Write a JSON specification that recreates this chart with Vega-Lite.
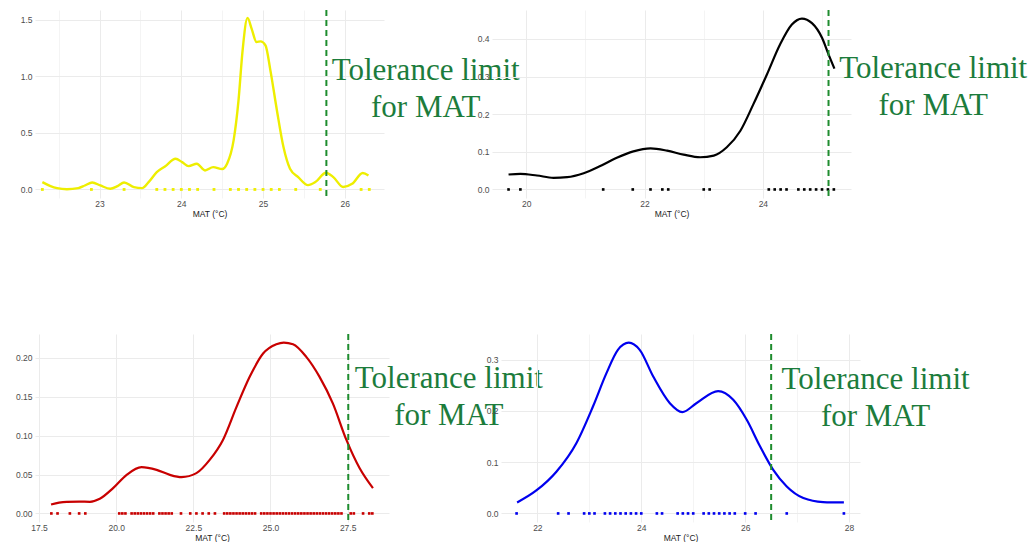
{
  "$schema": "https://vega.github.io/schema/vega-lite/v6.json",
  "padding": {"left": 5, "top": 9, "right": 0, "bottom": 0},
  "autosize": {"type": "pad"},
  "background": "white",
  "config": {
    "view": {"stroke": null},
    "axis": {
      "domain": false,
      "ticks": false,
      "labelFont": "Liberation Sans",
      "labelFontSize": 8.5,
      "labelColor": "#4D4D4D",
      "labelPadding": 3,
      "labelFlush": false,
      "labelOverlap": false,
      "titleFont": "Liberation Sans",
      "titleFontSize": 8.5,
      "titleFontWeight": "normal",
      "titleColor": "#1A1A1A",
      "titlePadding": 2,
      "gridWidth": 1
    },
    "axisX": {"labelPadding": 1}
  },
  "datasets": {
    "curve1": [
      {"MAT": 22.30, "density": 0.065}, {"MAT": 22.40, "density": 0.030}, {"MAT": 22.48, "density": 0.012},
      {"MAT": 22.60, "density": 0.002}, {"MAT": 22.74, "density": 0.012}, {"MAT": 22.82, "density": 0.035},
      {"MAT": 22.91, "density": 0.062}, {"MAT": 23.01, "density": 0.035}, {"MAT": 23.13, "density": 0.006},
      {"MAT": 23.22, "density": 0.030}, {"MAT": 23.30, "density": 0.062}, {"MAT": 23.42, "density": 0.020},
      {"MAT": 23.52, "density": 0.012}, {"MAT": 23.60, "density": 0.065}, {"MAT": 23.70, "density": 0.153},
      {"MAT": 23.80, "density": 0.203}, {"MAT": 23.93, "density": 0.271}, {"MAT": 24.01, "density": 0.241},
      {"MAT": 24.09, "density": 0.206}, {"MAT": 24.19, "density": 0.227}, {"MAT": 24.29, "density": 0.168},
      {"MAT": 24.39, "density": 0.197}, {"MAT": 24.50, "density": 0.180}, {"MAT": 24.56, "density": 0.227},
      {"MAT": 24.64, "density": 0.433}, {"MAT": 24.70, "density": 0.787}, {"MAT": 24.75, "density": 1.229},
      {"MAT": 24.81, "density": 1.515}, {"MAT": 24.86, "density": 1.421}, {"MAT": 24.92, "density": 1.302},
      {"MAT": 24.97, "density": 1.308}, {"MAT": 25.03, "density": 1.273}, {"MAT": 25.09, "density": 1.052},
      {"MAT": 25.17, "density": 0.698}, {"MAT": 25.25, "density": 0.374}, {"MAT": 25.33, "density": 0.183},
      {"MAT": 25.43, "density": 0.109}, {"MAT": 25.55, "density": 0.038}, {"MAT": 25.64, "density": 0.065},
      {"MAT": 25.77, "density": 0.148}, {"MAT": 25.86, "density": 0.109}, {"MAT": 25.98, "density": 0.022},
      {"MAT": 26.09, "density": 0.050}, {"MAT": 26.22, "density": 0.145}, {"MAT": 26.29, "density": 0.124}
    ],
    "dots1": [
      {"MAT": 22.3}, {"MAT": 22.9}, {"MAT": 23.3}, {"MAT": 23.7}, {"MAT": 23.8}, {"MAT": 23.9}, {"MAT": 24.0},
      {"MAT": 24.1}, {"MAT": 24.2}, {"MAT": 24.4}, {"MAT": 24.6}, {"MAT": 24.7}, {"MAT": 24.8}, {"MAT": 24.9},
      {"MAT": 25.0}, {"MAT": 25.1}, {"MAT": 25.2}, {"MAT": 25.4}, {"MAT": 25.7}, {"MAT": 26.2}, {"MAT": 26.3}
    ],
    "limit1": [{"limit": 25.775}],
    "curve2": [
      {"MAT": 19.70, "density": 0.0397}, {"MAT": 19.90, "density": 0.0414}, {"MAT": 20.18, "density": 0.037},
      {"MAT": 20.46, "density": 0.031}, {"MAT": 20.69, "density": 0.0326}, {"MAT": 20.97, "density": 0.043},
      {"MAT": 21.25, "density": 0.062}, {"MAT": 21.53, "density": 0.084}, {"MAT": 21.81, "density": 0.101},
      {"MAT": 22.10, "density": 0.109}, {"MAT": 22.38, "density": 0.103}, {"MAT": 22.66, "density": 0.0925},
      {"MAT": 22.94, "density": 0.0855}, {"MAT": 23.17, "density": 0.090}, {"MAT": 23.39, "density": 0.112},
      {"MAT": 23.62, "density": 0.156}, {"MAT": 23.84, "density": 0.2266}, {"MAT": 24.07, "density": 0.306},
      {"MAT": 24.29, "density": 0.385}, {"MAT": 24.49, "density": 0.438}, {"MAT": 24.66, "density": 0.454},
      {"MAT": 24.83, "density": 0.442}, {"MAT": 25.00, "density": 0.403}, {"MAT": 25.11, "density": 0.359},
      {"MAT": 25.21, "density": 0.321}
    ],
    "dots2": [
      {"MAT": 19.7}, {"MAT": 19.9}, {"MAT": 21.3}, {"MAT": 21.8}, {"MAT": 22.1}, {"MAT": 22.3}, {"MAT": 22.4},
      {"MAT": 23.0}, {"MAT": 23.1}, {"MAT": 24.1}, {"MAT": 24.2}, {"MAT": 24.3}, {"MAT": 24.4}, {"MAT": 24.6},
      {"MAT": 24.7}, {"MAT": 24.8}, {"MAT": 24.9}, {"MAT": 25.0}, {"MAT": 25.1}, {"MAT": 25.2}
    ],
    "limit2": [{"limit": 25.11}],
    "curve3": [
      {"MAT": 17.89, "density": 0.0115}, {"MAT": 18.15, "density": 0.0140}, {"MAT": 18.40, "density": 0.0150},
      {"MAT": 18.80, "density": 0.0152}, {"MAT": 19.15, "density": 0.0150}, {"MAT": 19.47, "density": 0.0188},
      {"MAT": 19.90, "density": 0.0325}, {"MAT": 20.34, "density": 0.0496}, {"MAT": 20.82, "density": 0.0595},
      {"MAT": 21.31, "density": 0.0560}, {"MAT": 21.74, "density": 0.0496}, {"MAT": 22.12, "density": 0.0467},
      {"MAT": 22.60, "density": 0.0518}, {"MAT": 23.03, "density": 0.0688}, {"MAT": 23.46, "density": 0.0945},
      {"MAT": 23.90, "density": 0.137}, {"MAT": 24.33, "density": 0.176}, {"MAT": 24.76, "density": 0.2056},
      {"MAT": 25.19, "density": 0.2176}, {"MAT": 25.43, "density": 0.2197}, {"MAT": 25.73, "density": 0.2176},
      {"MAT": 26.16, "density": 0.2013}, {"MAT": 26.59, "density": 0.1756}, {"MAT": 27.02, "density": 0.1415},
      {"MAT": 27.46, "density": 0.0945}, {"MAT": 27.89, "density": 0.058}, {"MAT": 28.32, "density": 0.0325}
    ],
    "dots3": [
      {"MAT": 17.9}, {"MAT": 18.1}, {"MAT": 18.5}, {"MAT": 18.8}, {"MAT": 19.0}, {"MAT": 20.1}, {"MAT": 20.2},
      {"MAT": 20.3}, {"MAT": 20.5}, {"MAT": 20.6}, {"MAT": 20.7}, {"MAT": 20.8}, {"MAT": 20.9}, {"MAT": 21.0},
      {"MAT": 21.1}, {"MAT": 21.2}, {"MAT": 21.4}, {"MAT": 21.5}, {"MAT": 21.6}, {"MAT": 21.7}, {"MAT": 21.8},
      {"MAT": 22.1}, {"MAT": 22.4}, {"MAT": 22.6}, {"MAT": 22.8}, {"MAT": 23.0}, {"MAT": 23.2}, {"MAT": 23.5},
      {"MAT": 23.6}, {"MAT": 23.7}, {"MAT": 23.8}, {"MAT": 23.9}, {"MAT": 24.0}, {"MAT": 24.1}, {"MAT": 24.2},
      {"MAT": 24.3}, {"MAT": 24.4}, {"MAT": 24.5}, {"MAT": 24.7}, {"MAT": 24.8}, {"MAT": 24.9}, {"MAT": 25.0},
      {"MAT": 25.1}, {"MAT": 25.2}, {"MAT": 25.3}, {"MAT": 25.4}, {"MAT": 25.5}, {"MAT": 25.6}, {"MAT": 25.7},
      {"MAT": 25.8}, {"MAT": 25.9}, {"MAT": 26.0}, {"MAT": 26.1}, {"MAT": 26.2}, {"MAT": 26.3}, {"MAT": 26.4},
      {"MAT": 26.5}, {"MAT": 26.6}, {"MAT": 26.7}, {"MAT": 26.8}, {"MAT": 26.9}, {"MAT": 27.0}, {"MAT": 27.1},
      {"MAT": 27.2}, {"MAT": 27.3}, {"MAT": 27.6}, {"MAT": 27.7}, {"MAT": 28.0}, {"MAT": 28.2}, {"MAT": 28.3}
    ],
    "limit3": [{"limit": 27.52}],
    "curve4": [
      {"MAT": 21.61, "density": 0.0214}, {"MAT": 21.98, "density": 0.0448}, {"MAT": 22.37, "density": 0.0819},
      {"MAT": 22.75, "density": 0.137}, {"MAT": 23.07, "density": 0.2086}, {"MAT": 23.33, "density": 0.2737},
      {"MAT": 23.55, "density": 0.319}, {"MAT": 23.76, "density": 0.333}, {"MAT": 23.97, "density": 0.319},
      {"MAT": 24.23, "density": 0.267}, {"MAT": 24.55, "density": 0.215}, {"MAT": 24.79, "density": 0.1976},
      {"MAT": 25.06, "density": 0.215}, {"MAT": 25.48, "density": 0.2385}, {"MAT": 25.77, "density": 0.2216},
      {"MAT": 26.03, "density": 0.1826}, {"MAT": 26.28, "density": 0.132}, {"MAT": 26.54, "density": 0.085},
      {"MAT": 26.80, "density": 0.0526}, {"MAT": 27.12, "density": 0.030}, {"MAT": 27.50, "density": 0.0222},
      {"MAT": 27.90, "density": 0.0214}
    ],
    "dots4": [
      {"MAT": 21.6}, {"MAT": 22.4}, {"MAT": 22.6}, {"MAT": 22.9}, {"MAT": 23.0}, {"MAT": 23.1}, {"MAT": 23.3},
      {"MAT": 23.4}, {"MAT": 23.5}, {"MAT": 23.6}, {"MAT": 23.7}, {"MAT": 23.8}, {"MAT": 23.9}, {"MAT": 24.0},
      {"MAT": 24.3}, {"MAT": 24.4}, {"MAT": 24.7}, {"MAT": 24.8}, {"MAT": 24.9}, {"MAT": 25.0}, {"MAT": 25.2},
      {"MAT": 25.3}, {"MAT": 25.4}, {"MAT": 25.5}, {"MAT": 25.6}, {"MAT": 25.7}, {"MAT": 25.8}, {"MAT": 26.0},
      {"MAT": 26.2}, {"MAT": 26.8}, {"MAT": 27.9}
    ],
    "limit4": [{"limit": 26.5}]
  },
  "concat": [
    {
      "hconcat": [
        {
          "width": 349, "height": 188,
          "layer": [
            {
              "data": {"name": "curve1"},
              "mark": {"type": "line", "color": "#EEEE00", "strokeWidth": 2.4, "interpolate": "monotone"},
              "encoding": {
                "x": {"field": "MAT", "type": "quantitative", "title": "MAT (°C)",
                  "scale": {"domain": [22.21, 26.48], "nice": false, "zero": false},
                  "axis": {"values": [22.5, 23, 23.5, 24, 24.5, 25, 25.5, 26], "format": ".0f",
                    "labelExpr": "datum.value % 1 == 0 ? datum.label : ''",
                    "gridColor": {"condition": {"test": "datum.value % 1 != 0", "value": "#F4F4F4"}, "value": "#EBEBEB"}}},
                "y": {"field": "density", "type": "quantitative", "title": null,
                  "scale": {"domain": [-0.0755, 1.585], "nice": false, "zero": false},
                  "axis": {"values": [0, 0.25, 0.5, 0.75, 1, 1.25, 1.5], "format": ".1f",
                    "labelExpr": "round(datum.value*4) % 2 == 0 ? datum.label : ''",
                    "gridColor": {"condition": {"test": "round(datum.value*4) % 2 == 1", "value": "#F4F4F4"}, "value": "#EBEBEB"}}}
              }
            },
            {
              "data": {"name": "dots1"},
              "mark": {"type": "square", "size": 8, "color": "#EEEE00", "opacity": 1},
              "encoding": {"x": {"field": "MAT", "type": "quantitative", "title": "MAT (°C)"}, "y": {"datum": 0, "title": null}}
            },
            {
              "data": {"name": "limit1"},
              "mark": {"type": "rule", "color": "#1E8C2E", "strokeWidth": 2, "strokeDash": [6, 4]},
              "encoding": {"x": {"field": "limit", "type": "quantitative", "title": "MAT (°C)"}}
            },
            {
              "data": {"values": [{}]},
              "mark": {"type": "text", "text": ["Tolerance limit", "for MAT"], "font": "Liberation Serif", "fontSize": 31,
                "color": "#1C7C3C", "align": "center", "baseline": "alphabetic", "lineHeight": 37},
              "encoding": {"x": {"datum": 26.99, "title": "MAT (°C)"}, "y": {"datum": 0.97, "title": null}}
            }
          ]
        },
        {
          "width": 359, "height": 188,
          "layer": [
            {
              "data": {"name": "curve2"},
              "mark": {"type": "line", "color": "#000000", "strokeWidth": 2.2, "interpolate": "monotone"},
              "encoding": {
                "x": {"field": "MAT", "type": "quantitative", "title": "MAT (°C)",
                  "scale": {"domain": [19.42, 25.49], "nice": false, "zero": false},
                  "axis": {"values": [20, 21, 22, 23, 24, 25], "format": ".0f",
                    "labelExpr": "datum.value % 2 == 0 ? datum.label : ''",
                    "gridColor": {"condition": {"test": "datum.value % 2 != 0", "value": "#F4F4F4"}, "value": "#EBEBEB"}}},
                "y": {"field": "density", "type": "quantitative", "title": null,
                  "scale": {"domain": [-0.0227, 0.4767], "nice": false, "zero": false},
                  "axis": {"values": [0, 0.05, 0.1, 0.15, 0.2, 0.25, 0.3, 0.35, 0.4, 0.45], "format": ".1f",
                    "labelExpr": "round(datum.value*20) % 2 == 0 ? datum.label : ''",
                    "gridColor": {"condition": {"test": "round(datum.value*20) % 2 == 1", "value": "#F4F4F4"}, "value": "#EBEBEB"}}}
              }
            },
            {
              "data": {"name": "dots2"},
              "mark": {"type": "square", "size": 7, "color": "#000000", "opacity": 1},
              "encoding": {"x": {"field": "MAT", "type": "quantitative", "title": "MAT (°C)"}, "y": {"datum": 0, "title": null}}
            },
            {
              "data": {"name": "limit2"},
              "mark": {"type": "rule", "color": "#1E8C2E", "strokeWidth": 2, "strokeDash": [6, 4]},
              "encoding": {"x": {"field": "limit", "type": "quantitative", "title": "MAT (°C)"}}
            },
            {
              "data": {"values": [{}]},
              "mark": {"type": "text", "text": ["Tolerance limit", "for MAT"], "font": "Liberation Serif", "fontSize": 31,
                "color": "#1C7C3C", "align": "center", "baseline": "alphabetic", "lineHeight": 37},
              "encoding": {"x": {"datum": 26.88, "title": "MAT (°C)"}, "y": {"datum": 0.295, "title": null}}
            }
          ]
        }
      ],
      "spacing": 108,
      "bounds": "flush"
    },
    {
      "hconcat": [
        {
          "width": 354, "height": 188,
          "layer": [
            {
              "data": {"name": "curve3"},
              "mark": {"type": "line", "color": "#C80000", "strokeWidth": 2.2, "interpolate": "monotone"},
              "encoding": {
                "x": {"field": "MAT", "type": "quantitative", "title": "MAT (°C)",
                  "scale": {"domain": [17.37, 28.84], "nice": false, "zero": false},
                  "axis": {"values": [17.5, 18.75, 20, 21.25, 22.5, 23.75, 25, 26.25, 27.5, 28.75], "format": ".1f",
                    "labelExpr": "round(datum.value*4) % 10 == 0 ? datum.label : ''",
                    "gridColor": {"condition": {"test": "round(datum.value*4) % 10 != 0", "value": "#F4F4F4"}, "value": "#EBEBEB"}}},
                "y": {"field": "density", "type": "quantitative", "title": null,
                  "scale": {"domain": [-0.011, 0.2307], "nice": false, "zero": false},
                  "axis": {"values": [0, 0.025, 0.05, 0.075, 0.1, 0.125, 0.15, 0.175, 0.2, 0.225], "format": ".2f", "minExtent": 30,
                    "labelExpr": "round(datum.value*40) % 2 == 0 ? datum.label : ''",
                    "gridColor": {"condition": {"test": "round(datum.value*40) % 2 == 1", "value": "#F4F4F4"}, "value": "#EBEBEB"}}}
              }
            },
            {
              "data": {"name": "dots3"},
              "mark": {"type": "square", "size": 7, "color": "#C80000", "opacity": 1},
              "encoding": {"x": {"field": "MAT", "type": "quantitative", "title": "MAT (°C)"}, "y": {"datum": 0, "title": null}}
            },
            {
              "data": {"name": "limit3"},
              "mark": {"type": "rule", "color": "#1E8C2E", "strokeWidth": 2, "strokeDash": [6, 4]},
              "encoding": {"x": {"field": "limit", "type": "quantitative", "title": "MAT (°C)"}}
            },
            {
              "data": {"values": [{}]},
              "mark": {"type": "text", "text": ["Tolerance limit", "for MAT"], "font": "Liberation Serif", "fontSize": 31,
                "color": "#1C7C3C", "align": "center", "baseline": "alphabetic", "lineHeight": 37},
              "encoding": {"x": {"datum": 30.78, "title": "MAT (°C)"}, "y": {"datum": 0.1608, "title": null}}
            }
          ]
        },
        {
          "width": 359, "height": 188,
          "layer": [
            {
              "data": {"name": "curve4"},
              "mark": {"type": "line", "color": "#0000EE", "strokeWidth": 2.2, "interpolate": "monotone"},
              "encoding": {
                "x": {"field": "MAT", "type": "quantitative", "title": "MAT (°C)",
                  "scale": {"domain": [21.3, 28.21], "nice": false, "zero": false},
                  "axis": {"values": [22, 23, 24, 25, 26, 27, 28], "format": ".0f",
                    "labelExpr": "datum.value % 2 == 0 ? datum.label : ''",
                    "gridColor": {"condition": {"test": "datum.value % 2 != 0", "value": "#F4F4F4"}, "value": "#EBEBEB"}}},
                "y": {"field": "density", "type": "quantitative", "title": null,
                  "scale": {"domain": [-0.0167, 0.35], "nice": false, "zero": false},
                  "axis": {"values": [0, 0.05, 0.1, 0.15, 0.2, 0.25, 0.3, 0.35], "format": ".1f",
                    "labelExpr": "round(datum.value*20) % 2 == 0 ? datum.label : ''",
                    "gridColor": {"condition": {"test": "round(datum.value*20) % 2 == 1", "value": "#F4F4F4"}, "value": "#EBEBEB"}}}
              }
            },
            {
              "data": {"name": "dots4"},
              "mark": {"type": "square", "size": 7, "color": "#0000EE", "opacity": 1},
              "encoding": {"x": {"field": "MAT", "type": "quantitative", "title": "MAT (°C)"}, "y": {"datum": 0, "title": null}}
            },
            {
              "data": {"name": "limit4"},
              "mark": {"type": "rule", "color": "#1E8C2E", "strokeWidth": 2, "strokeDash": [6, 4]},
              "encoding": {"x": {"field": "limit", "type": "quantitative", "title": "MAT (°C)"}}
            },
            {
              "data": {"values": [{}]},
              "mark": {"type": "text", "text": ["Tolerance limit", "for MAT"], "font": "Liberation Serif", "fontSize": 31,
                "color": "#1C7C3C", "align": "center", "baseline": "alphabetic", "lineHeight": 37},
              "encoding": {"x": {"datum": 28.51, "title": "MAT (°C)"}, "y": {"datum": 0.243, "title": null}}
            }
          ]
        }
      ],
      "spacing": 112,
      "bounds": "flush"
    }
  ],
  "columns": 1,
  "spacing": 115,
  "bounds": "full"
}
